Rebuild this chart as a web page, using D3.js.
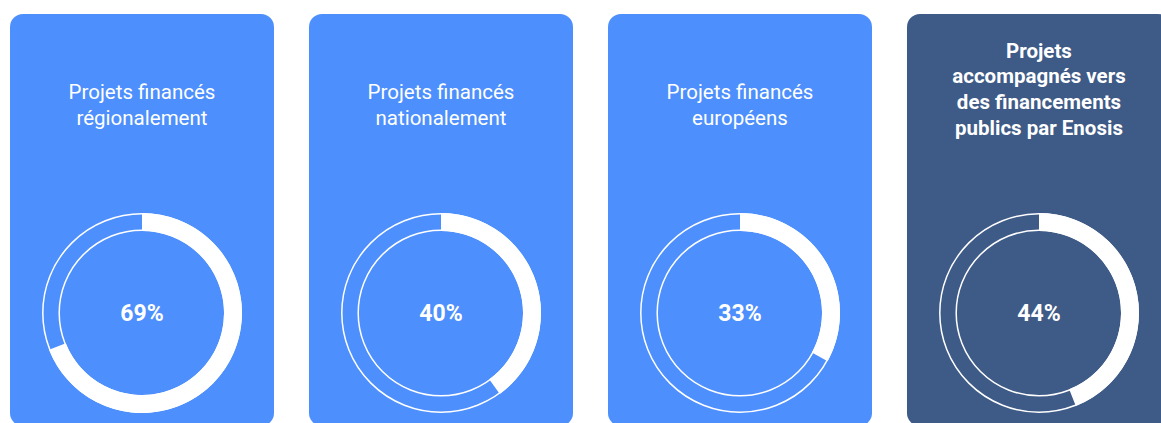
<!DOCTYPE html>
<html>
<head>
<meta charset="utf-8">
<script src="https://cdn.jsdelivr.net/npm/d3@7"></script>
<style>
  body { margin: 0; background: #fff; }
  text { font-family: Roboto, "Open Sans", sans-serif; }
</style>
</head>
<body>
<script>
// card titles, one entry per line
const titles = [
    ["Projets financés", "régionalement"],
    ["Projets financés", "nationalement"],
    ["Projets financés", "européens"],
    ["Projets", "accompagnés vers", "des financements", "publics par Enosis"]
];
const values = [69, 40, 33, 44];
const darkCard = 3; // the last card is drawn in dark blue

const width = 1161, height = 423;

const svg = d3.select("body")
    .append("svg")
    .attr("width", width)
    .attr("height", height);

const x = d3.scaleBand()
    .domain(d3.range(values.length))
    .range([10, 1171])
    .paddingInner(0.117)
    .paddingOuter(0);

const angle = d3.scaleLinear()
    .domain([0, 100])
    .range([0, 2 * Math.PI]);

const rOuter = 100, rInner = 82;
const arc = d3.arc()
    .innerRadius(rInner)
    .outerRadius(rOuter)
    .startAngle(0);

const cards = svg.selectAll("g.card")
    .data(values)
    .enter()
    .append("g")
    .attr("class", "card")
    .attr("transform", (d, i) => `translate(${x(i)},14)`);

cards.append("rect")
    .attr("width", x.bandwidth())
    .attr("height", 412)
    .attr("rx", 13)
    .attr("fill", (d, i) => i === darkCard ? "#3e5a86" : "#4d8ffd");

// titles
cards.append("text")
    .attr("text-anchor", "middle")
    .attr("fill", "#fff")
    .attr("font-size", 20.5)
    .attr("font-weight", (d, i) => i === darkCard ? 700 : 400)
    .each(function (d, i) {
        const lines = titles[i];
        const top = i === darkCard ? 36.5 : 78;
        d3.select(this).selectAll("tspan")
            .data(lines)
            .enter()
            .append("tspan")
            .attr("x", x.bandwidth() / 2)
            .attr("y", (l, j) => top + j * 25.8)
            .attr("dy", "0.35em")
            .text(l => l);
    });

// donuts
const donut = cards.append("g")
    .attr("transform", `translate(${x.bandwidth() / 2},299)`);

// track outline
donut.selectAll("circle")
    .data([rOuter - 0.8, rInner + 0.8])
    .enter()
    .append("circle")
    .attr("r", r => r)
    .attr("fill", "none")
    .attr("stroke", "#fff")
    .attr("stroke-width", 1.5);

donut.append("path")
    .attr("d", d => arc({ endAngle: angle(d) }))
    .attr("fill", "#fff");

donut.append("text")
    .attr("text-anchor", "middle")
    .attr("dy", "0.35em")
    .attr("fill", "#fff")
    .attr("font-size", 23)
    .attr("font-weight", 700)
    .text(d => d + "%");
</script>
</body>
</html>
